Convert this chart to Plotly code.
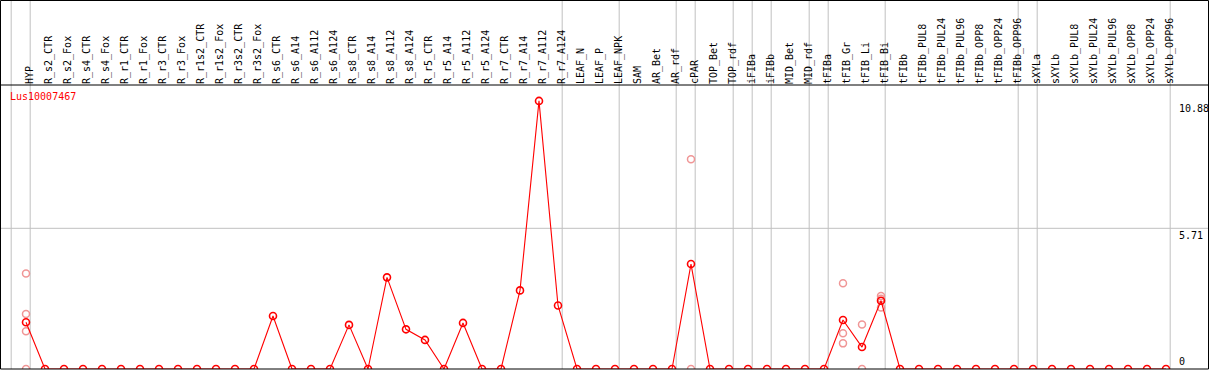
import plotly.graph_objects as go

categories = ["HYP", "R_s2_CTR", "R_s2_Fox", "R_s4_CTR", "R_s4_Fox", "R_r1_CTR", "R_r1_Fox",
              "R_r3_CTR", "R_r3_Fox", "R_r1s2_CTR", "R_r1s2_Fox", "R_r3s2_CTR", "R_r3s2_Fox",
              "R_s6_CTR", "R_s6_A14", "R_s6_A112", "R_s6_A124", "R_s8_CTR", "R_s8_A14",
              "R_s8_A112", "R_s8_A124", "R_r5_CTR", "R_r5_A14", "R_r5_A112", "R_r5_A124",
              "R_r7_CTR", "R_r7_A14", "R_r7_A112", "R_r7_A124", "LEAF_N", "LEAF_P", "LEAF_NPK",
              "SAM", "AR_Bet", "AR_rdf", "cPAR", "TOP_Bet", "TOP_rdf", "iFIBa", "iFIBb",
              "MID_Bet", "MID_rdf", "tFIBa", "tFIB_Gr", "tFIB_Li", "tFIB_Bi", "tFIBb",
              "tFIBb_PUL8", "tFIBb_PUL24", "tFIBb_PUL96", "tFIBb_OPP8", "tFIBb_OPP24",
              "tFIBb_OPP96", "sXYLa", "sXYLb", "sXYLb_PUL8", "sXYLb_PUL24", "sXYLb_PUL96",
              "sXYLb_OPP8", "sXYLb_OPP24", "sXYLb_OPP96"]

mean_values = [1.90, 0, 0, 0, 0, 0, 0, 0, 0, 0, 0, 0, 0,
               2.15, 0, 0, 0, 1.79, 0, 3.72, 1.61, 1.18, 0, 1.87, 0,
               0, 3.19, 10.88, 2.58, 0, 0, 0,
               0, 0, 0, 4.26, 0, 0, 0, 0,
               0, 0, 0, 1.99, 0.89, 2.77, 0,
               0, 0, 0, 0, 0, 0,
               0, 0, 0, 0, 0, 0, 0, 0]

replicate_categories = ["HYP", "HYP", "HYP", "HYP", "cPAR", "cPAR",
                        "tFIB_Gr", "tFIB_Gr", "tFIB_Gr", "tFIB_Li", "tFIB_Li",
                        "tFIB_Bi", "tFIB_Bi", "tFIB_Bi"]
replicate_values = [3.88, 2.23, 1.53, 0, 8.51, 0,
                    3.48, 1.45, 1.04, 1.81, 0,
                    2.96, 2.50, 2.85]

# categories after which a group separator line is drawn (None = before first)
group_ends = [None, "HYP", "R_r7_A124", "LEAF_NPK", "AR_rdf", "cPAR", "TOP_rdf", "iFIBa",
              "iFIBb", "MID_rdf", "tFIBa", "tFIB_Bi", "tFIBb_OPP96", "sXYLa", "sXYLb_OPP96"]

y_ticks = [0, 5.71, 10.88]
gene_name = "Lus10007467"

W, H = 1209, 370
ML, MR, MT, MB = 1, 1, 85, 1
PW = W - ML - MR
PH = H - MT - MB
px_per_cat = 19.0
first_px = 26.0
xmin = -(first_px - ML) / px_per_cat
xmax = xmin + PW / px_per_cat
px_per_unit = 24.64
ymax = PH / px_per_unit
label_shift = 0.2

idx = {c: i for i, c in enumerate(categories)}
xs = list(range(len(categories)))

fig = go.Figure()

grid = "#c0c0c0"
shapes = []
for g in group_ends:
    k = -1 if g is None else idx[g]
    xv = k + 0.22
    shapes.append(dict(type="line", xref="x", yref="paper", x0=xv, x1=xv, y0=0,
                       y1=1 + MT / PH, line=dict(color=grid, width=1), layer="below"))
shapes.append(dict(type="line", xref="paper", yref="y", x0=0, x1=1, y0=5.71, y1=5.71,
                   line=dict(color=grid, width=1), layer="below"))
# frame and separator
shapes.append(dict(type="rect", xref="paper", yref="paper", x0=-0.5 / PW, x1=1 + 0.5 / PW,
                   y0=0, y1=1 + (MT - 0.5) / PH, line=dict(color="black", width=1)))
shapes.append(dict(type="line", xref="paper", yref="paper", x0=0, x1=1, y0=1, y1=1,
                   line=dict(color="black", width=1)))

fig.add_trace(go.Scatter(
    x=[idx[c] for c in replicate_categories], y=replicate_values, mode="markers",
    marker=dict(symbol="circle-open", size=7, color="rgb(240,150,150)",
                line=dict(width=1.5, color="rgb(240,150,150)")),
    hoverinfo="skip", showlegend=False))

fig.add_trace(go.Scatter(
    x=xs, y=mean_values, mode="lines+markers",
    line=dict(color="#ff0000", width=1.1),
    marker=dict(symbol="circle-open", size=7, color="#ff0000",
                line=dict(width=1.6, color="#ff0000")),
    showlegend=False))

font = "DejaVu Sans Mono"
annotations = []
for t in y_ticks:
    annotations.append(dict(xref="paper", yref="y", x=(1177 - ML) / PW, y=t,
                            text=("%g" % t), showarrow=False, xanchor="left",
                            yanchor="bottom" if t == 0 else "top",
                            font=dict(family=font, size=10, color="black")))
annotations.append(dict(xref="paper", yref="paper", x=(8 - ML) / PW, y=1 - (97 - MT) / PH,
                        text=gene_name, showarrow=False, xanchor="left", yanchor="middle",
                        font=dict(family=font, size=10, color="#ff0000")))

fig.update_layout(
    width=W, height=H,
    margin=dict(l=ML, r=MR, t=MT, b=MB, pad=0),
    paper_bgcolor="white", plot_bgcolor="white",
    shapes=shapes, annotations=annotations,
    xaxis=dict(range=[xmin, xmax], tickvals=[x + label_shift for x in xs],
               ticktext=categories, side="top",
               tickangle=-90, tickfont=dict(family=font, size=10, color="black"),
               showgrid=False, zeroline=False, showline=False, ticks=""),
    yaxis=dict(range=[0, ymax], showticklabels=False, showgrid=False, zeroline=False,
               showline=False, ticks=""),
)

fig.write_html("out.html", config={"displayModeBar": False},
               post_script="document.body.style.margin='0';document.body.style.overflow='hidden';")
